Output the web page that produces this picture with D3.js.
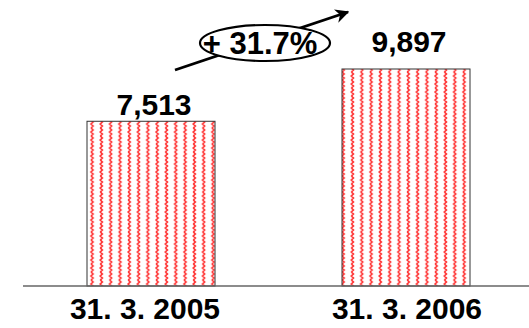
<!DOCTYPE html>
<html>
<head>
<meta charset="utf-8">
<script src="https://cdn.jsdelivr.net/npm/d3@7"></script>
<style>
  body { margin: 0; background: #fff; }
  text { font-family: Arial, "Liberation Sans", sans-serif; font-weight: bold; fill: #000; }
</style>
</head>
<body>
<div id="chart"></div>
<script>
const categories = ["31. 3. 2005", "31. 3. 2006"];
const values = [7513, 9897];
const growthLabel = "+ 31.7%";

const width = 529, height = 328;
const baseY = 286;

// small per-bar tweaks so labels sit where the original put them
const labelGap = [6, 17];
const catShift = [-6, 1];

const svg = d3.select("#chart").append("svg")
    .attr("width", width)
    .attr("height", height);

// wavy red fill
const defs = svg.append("defs");
const pat = defs.append("pattern")
    .attr("id", "wave")
    .attr("patternUnits", "userSpaceOnUse")
    .attr("x", 88)
    .attr("width", 9.3)
    .attr("height", 8);
pat.append("rect").attr("width", 9.3).attr("height", 8).attr("fill", "#fff");
pat.append("path")
    .attr("d", "M3,0 L5,2 L3,4 L5,6 L3,8")
    .attr("fill", "none")
    .attr("stroke", "#ff3535")
    .attr("stroke-width", 1.7);

const xPos = d3.scalePoint().domain(categories).range([151, 406]);
const barW = 128;

const y = d3.scaleLinear()
    .domain([0, 9897])
    .range([baseY, 69]);

svg.selectAll(".bar")
  .data(values)
  .join("rect")
    .attr("class", "bar")
    .attr("x", (d, i) => xPos(categories[i]) - barW / 2)
    .attr("y", d => y(d))
    .attr("width", barW)
    .attr("height", d => baseY - y(d))
    .attr("fill", "url(#wave)")
    .attr("stroke", "#333")
    .attr("stroke-width", 1);

// baseline
svg.append("line")
    .attr("x1", 23).attr("x2", 529)
    .attr("y1", baseY).attr("y2", baseY)
    .attr("stroke", "#666")
    .attr("stroke-width", 1.5);

// value labels
svg.selectAll(".val")
  .data(values)
  .join("text")
    .attr("class", "val")
    .attr("x", (d, i) => xPos(categories[i]) + 3)
    .attr("y", (d, i) => y(d) - labelGap[i])
    .attr("text-anchor", "middle")
    .attr("font-size", 30)
    .text(d => d3.format(",")(d));

// category labels
svg.selectAll(".cat")
  .data(categories)
  .join("text")
    .attr("class", "cat")
    .attr("x", (d, i) => xPos(d) + catShift[i])
    .attr("y", 319)
    .attr("text-anchor", "middle")
    .attr("font-size", 30)
    .text(d => d);

// growth arrow + ellipse (ellipse is filled white, so it hides the line)
defs.append("marker")
    .attr("id", "head")
    .attr("viewBox", "0 0 10 10")
    .attr("refX", 9).attr("refY", 5)
    .attr("markerWidth", 5).attr("markerHeight", 5)
    .attr("orient", "auto")
  .append("path")
    .attr("d", "M0,0 L10,5 L0,10 L3,5 Z")
    .attr("fill", "#000");

svg.append("line")
    .attr("x1", 175).attr("y1", 70)
    .attr("x2", 348).attr("y2", 12)
    .attr("stroke", "#000")
    .attr("stroke-width", 2.8)
    .attr("marker-end", "url(#head)");

svg.append("ellipse")
    .attr("cx", 265).attr("cy", 43)
    .attr("rx", 65).attr("ry", 18)
    .attr("fill", "#fff")
    .attr("stroke", "#000")
    .attr("stroke-width", 2.2);

svg.append("text")
    .attr("x", 260).attr("y", 54)
    .attr("text-anchor", "middle")
    .attr("font-size", 31)
    .text(growthLabel);
</script>
</body>
</html>
